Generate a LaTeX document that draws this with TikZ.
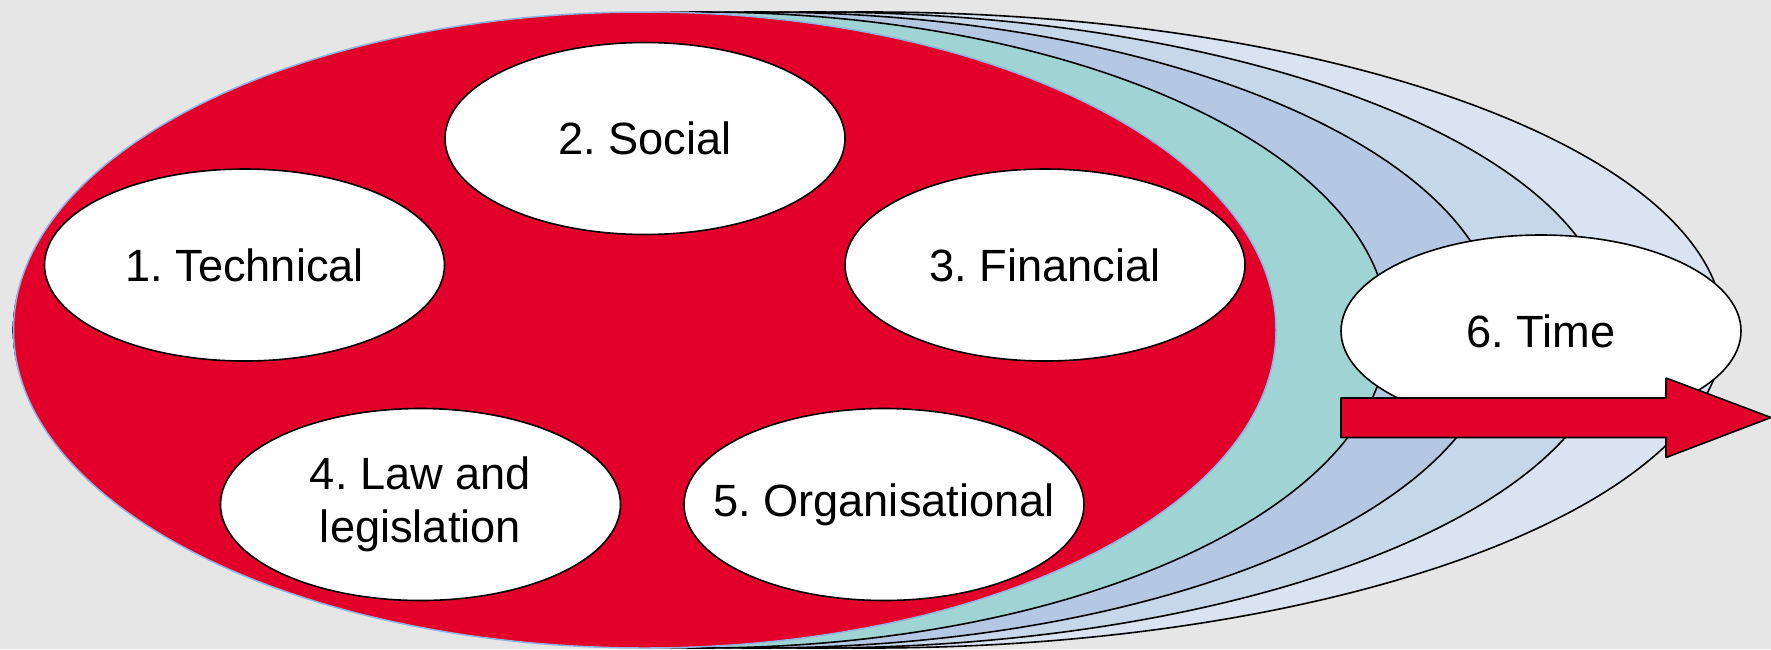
\documentclass[tikz,border=0pt]{standalone}
\usepackage{fontspec}
\setmainfont{Liberation Sans}
\usepackage{tikz}
\usetikzlibrary{shapes}
\definecolor{bggray}{HTML}{E6E6E6}
\definecolor{fullred}{HTML}{E2002B}
\definecolor{rimblue}{HTML}{8EB4E3}
\definecolor{layA}{HTML}{A0D3D3}
\definecolor{layB}{HTML}{B4C8E3}
\definecolor{layC}{HTML}{C6D7EA}
\definecolor{layD}{HTML}{D9E3F1}
\tikzstyle{layer}=[draw=black,line width=0.8pt]
\tikzstyle{bubble}=[ellipse,draw=black,line width=0.8pt,fill=white,minimum width=200pt,minimum height=96pt,inner sep=-20pt,align=center,font=\fontsize{22.6}{26.5}\selectfont]
\frenchspacing

\begin{document}
\begin{tikzpicture}[x=0.5pt,y=-0.5pt,line join=bevel]
	  \fill [bggray] (0,0) rectangle (1771,649);
	  \useasboundingbox (0,0) rectangle (1771,649);
	  % layers behind, back to front
	  \draw [layer,fill=layD] (868.75,330) ellipse [x radius=855.25,y radius=318];
	  \draw [layer,fill=layC] (812.75,330) ellipse [x radius=799.25,y radius=318];
	  \draw [layer,fill=layB] (756.75,330) ellipse [x radius=743.25,y radius=318];
	  \draw [layer,fill=layA] (700.75,330) ellipse [x radius=687.25,y radius=318];
	  \draw [fill=fullred,draw=rimblue,line width=0.75pt] (644.75,330) ellipse [x radius=631.25,y radius=318];
	  % aspects
	  \node (T) at (244.5,265) [bubble] {1. Technical};
	  \node (S) at (645,138.5) [bubble] {2. Social};
	  \node (F) at (1045,265) [bubble] {3. Financial};
	  \node (L) at (420.5,504.5) [bubble] {4. Law and\\legislation};
	  \node (O) at (884,504.5) [bubble] {5. Organisational};
	  \node (Ti) at (1541,331) [bubble] {6. Time};
	  % time arrow
	  \draw [fill=fullred,draw=black,line width=0.8pt] (1341,398) -- (1666,398) -- (1666,378) -- (1771,417.5) -- (1666,457.5) -- (1666,437.5) -- (1341,437.5) -- cycle;
    %
    \end{tikzpicture}
\end{document}
